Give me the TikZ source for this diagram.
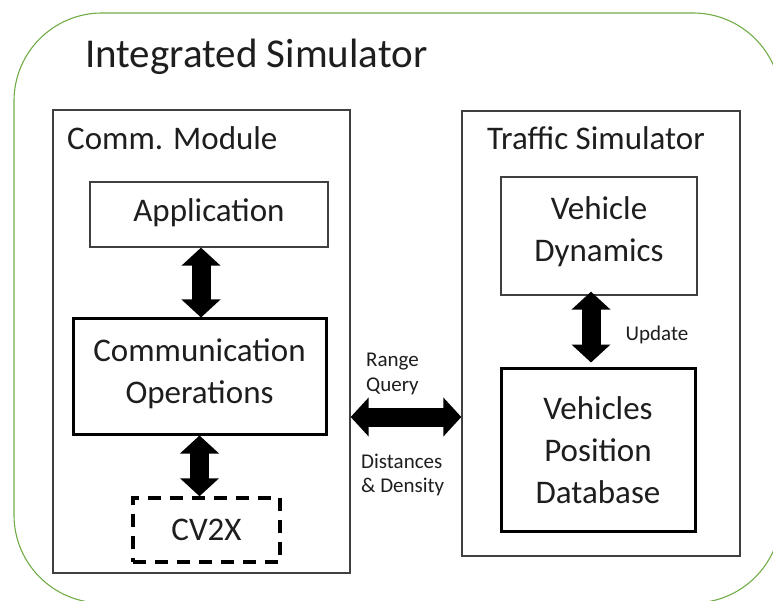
\documentclass[tikz,border=0pt]{standalone}
\usepackage{fontspec}
\setmainfont{Carlito}
\usetikzlibrary{arrows.meta,calc}
\definecolor{outergreen}{HTML}{70AD47}
\definecolor{txt}{HTML}{1E1E1E}
\definecolor{thinline}{HTML}{404040}
\tikzset{
  thinbox/.style={draw=thinline, line width=1.3pt, fill=white, inner sep=0pt},
  thickbox/.style={draw=black, line width=3pt, fill=white, inner sep=0pt},
  dashbox/.style={draw=black, line width=3.5pt, dash pattern=on 13pt off 9pt, inner sep=0pt},
  boxtext/.style={text=txt, inner sep=0pt, align=center, font=\fontsize{33}{42}\selectfont},
  bigtitle/.style={text=txt, inner sep=0pt, anchor=base west, font=\fontsize{41}{48}\selectfont},
  title/.style={text=txt, inner sep=0pt, anchor=base west, font=\fontsize{33}{40}\selectfont},
  small/.style={text=txt, inner sep=0pt, align=left, font=\fontsize{21}{24.5}\selectfont},
  fatarrow/.style={line width=19pt, {Triangle[width=38pt,length=18pt]}-{Triangle[width=38pt,length=18pt]}}
}
\begin{document}
\begin{tikzpicture}[x=1pt,y=-1pt]
\useasboundingbox (0,0) rectangle (773,601);
\draw[outergreen, line width=1.1pt, rounded corners=88pt] (14,13) rectangle (781,603);
\node[bigtitle] (t) at (85,68) {Integrated Simulator};
% left module
\node[thinbox, minimum width=297, minimum height=463] (cm) at (201.5,341.5) {};
\node[title] (cmt) at (67,150) {Comm. Module};
\node[thinbox, minimum width=238, minimum height=65] (app) at (209,214.5) {};
\node[boxtext] (appt) at (209,213) {Application};
\node[thickbox, minimum width=253, minimum height=115] (ops) at (199.5,376.5) {};
\node[boxtext] (opst) at (199.5,373.5) {Communication\\Operations};
\node[dashbox, minimum width=147, minimum height=64] (cv) at (206.5,530) {};
\node[boxtext] (cvt) at (206.5,530) {CV2X};
% right module
\node[thinbox, minimum width=278, minimum height=445] (ts) at (601,333.5) {};
\node[title] (tst) at (487,150) {Traffic Simulator};
\node[thinbox, minimum width=196, minimum height=118] (vd) at (599,236) {};
\node[boxtext] (vdt) at (599,231.5) {Vehicle\\Dynamics};
\node[thickbox, minimum width=194, minimum height=163] (db) at (598,449.5) {};
\node[boxtext] (dbt) at (598,450) {Vehicles\\Position\\Database};
% arrows
\draw[fatarrow] ([xshift=-8pt]app.south) -- ([xshift=-8pt]app.south |- ops.north);
\draw[fatarrow] (ops.south) -- (ops.south |- cv.north);
\draw[fatarrow] ([xshift=-8pt,yshift=4pt]vd.south) -- ([xshift=-8pt,yshift=4pt]vd.south |- db.north);
\draw[fatarrow] ([yshift=-75.5pt]cm.east) -- ([yshift=-75.5pt]cm.east -| ts.west);
% labels
\node[small, anchor=west] (rq) at (366,374) {Range\\Query};
\node[small, anchor=west] (dd) at (361,475) {Distances\\\& Density};
\node[small] (up) at (657,335) {Update};
\end{tikzpicture}
\end{document}
